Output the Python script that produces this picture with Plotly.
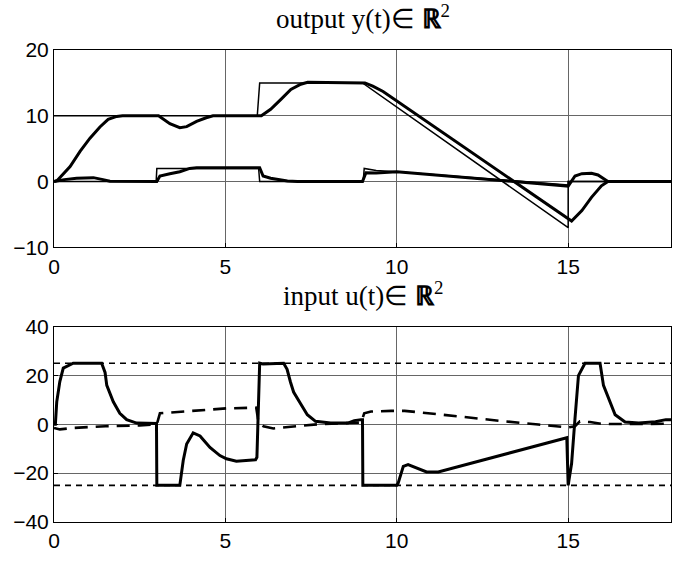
import plotly.graph_objects as go
from plotly.subplots import make_subplots

# ---- reference trajectories (thin lines) ----
t_r1 = [0, 5.93, 6.0, 9.0, 15.0, 15.0, 18]
r1 = [10, 10, 15, 15, -7, 0, 0]

t_r2 = [0, 2.98, 3.0, 5.97, 6.0, 9.02, 9.05, 9.4, 10.0, 15.0, 15.0, 18]
r2 = [0, 0, 2, 2, 0, 0, 2, 1.7, 1.5, -0.5, 0, 0]

# ---- measured outputs (thick lines) ----
t_y1 = [0, 0.1, 0.47, 0.76, 1.05, 1.34, 1.58, 1.83, 2.0, 3.05, 3.38, 3.67, 3.87,
        4.16, 4.44, 4.64, 6.05, 6.32, 6.62, 6.91, 7.2, 7.4, 9.07, 9.3, 9.6,
        15.0, 15.1, 15.4, 15.68, 15.97, 16.16, 18]
y1 = [0, 0.2, 2.3, 4.6, 6.6, 8.3, 9.45, 9.9, 10, 10, 8.8, 8.2, 8.35,
      9.15, 9.7, 10, 10, 11.0, 12.5, 14.0, 14.8, 15.1, 15.0, 14.5, 13.7,
      -5.6, -6.0, -4.4, -2.4, -0.65, 0, 0]

t_y2 = [0, 0.3, 0.66, 1.15, 1.43, 1.63, 3.0, 3.09, 3.38, 3.67, 3.96, 4.16,
        6.0, 6.1, 6.32, 6.81, 7.1, 9.0, 9.1, 9.4, 10.0, 15.0, 15.2, 15.4,
        15.68, 15.87, 16.06, 16.16, 18]
y2 = [0, 0.3, 0.5, 0.6, 0.3, 0.05, 0, 0.85, 1.2, 1.5, 2.0, 2.1,
      2.1, 0.85, 0.5, 0.1, 0, 0, 1.35, 1.3, 1.5, -0.7, 0.85, 1.2,
      1.25, 1.0, 0.35, 0, 0]

# ---- control inputs ----
t_u1 = [0, 0.04, 0.08, 0.17, 0.27, 0.47, 0.56, 1.39, 1.49, 1.54, 1.73, 1.92,
        2.12, 2.41, 2.9, 2.99, 3.0, 3.67, 3.77, 3.87, 4.06, 4.26, 4.55, 4.84,
        5.03, 5.32, 5.88, 5.92, 6.0, 6.1, 6.7, 6.8, 6.9, 6.99, 7.19, 7.39,
        7.63, 8.07, 8.57, 8.76, 8.96, 9.0, 9.01, 10.0, 10.04, 10.19, 10.33,
        10.53, 10.87, 11.21, 14.96, 15.0, 15.1, 15.2, 15.3, 15.49, 15.93,
        16.03, 16.18, 16.37, 16.66, 17.06, 17.55, 17.85, 18]
u1 = [0, 0, 9.2, 17.5, 23.0, 24.5, 25, 25, 21.2, 15.9, 9.2, 4.5,
      1.9, 0.5, 0.1, 0.3, -25, -25, -14.8, -8.1, -3.5, -4.8, -9.5, -12.8,
      -14.1, -15.1, -14.5, -13.5, 25, 24.7, 25, 22.5, 17.2, 13.2, 8.5, 3.9,
      1.2, 0.5, 0.5, 1.5, 1.9, 1.9, -25, -25, -24.1, -17.2, -16.5,
      -17.5, -19.5, -19.5, -5.5, -25, -16.1, 2.5, 19.9, 25, 25,
      15.9, 10.5, 3.9, 0.9, 0.5, 1.0, 1.9, 1.9]

t_u2 = [0, 0.17, 0.56, 1.0, 1.5, 2.5, 2.99, 3.0, 3.09, 4.06, 4.74, 5.03, 5.9,
        5.96, 6.11, 6.4, 7.09, 7.78, 8.57, 8.96, 9.05, 9.25, 9.84, 10.23,
        11.21, 12.18, 13.15, 14.13, 14.91, 15.0, 15.2, 15.34, 15.64, 16.02, 18]
u2 = [-1.5, -2.1, -1.5, -1.2, -0.8, -0.5, -0.3, 0.0, 4.5, 5.5, 6.3, 6.5, 6.8,
      1.2, -0.8, -1.7, -0.8, 0.1, 0.5, 0.7, 4.5, 5.2, 5.5, 5.5,
      4.1, 2.5, 1.2, -0.1, -1.2, -1.3, -0.8, 1.2, 0.9, 0.1, 0.2]

# input limits
t_lim = [0, 18]
u_max = [25, 25]
u_min = [-25, -25]

x_ticks = [0, 5, 10, 15]
y_ticks_top = [-10, 0, 10, 20]
y_ticks_bot = [-40, -20, 0, 20, 40]

fig = make_subplots(rows=2, cols=1, vertical_spacing=0.0)

thin = dict(color="black", width=1.5)
thick = dict(color="black", width=3)

fig.add_trace(go.Scatter(x=t_r1, y=r1, mode="lines", line=thin), row=1, col=1)
fig.add_trace(go.Scatter(x=t_r2, y=r2, mode="lines", line=thin), row=1, col=1)
fig.add_trace(go.Scatter(x=t_y1, y=y1, mode="lines", line=thick), row=1, col=1)
fig.add_trace(go.Scatter(x=t_y2, y=y2, mode="lines", line=thick), row=1, col=1)

lim = dict(color="black", width=1.6, dash="6px,5px")
fig.add_trace(go.Scatter(x=t_lim, y=u_max, mode="lines", line=lim), row=2, col=1)
fig.add_trace(go.Scatter(x=t_lim, y=u_min, mode="lines", line=lim), row=2, col=1)
fig.add_trace(go.Scatter(x=t_u1, y=u1, mode="lines", line=thick), row=2, col=1)
fig.add_trace(go.Scatter(x=t_u2, y=u2, mode="lines",
                         line=dict(color="black", width=2.6, dash="13px,8px")),
              row=2, col=1)

tick_font = dict(family="Liberation Sans, Arial, sans-serif", size=21, color="black")
axis_common = dict(showline=True, linecolor="black", linewidth=1, mirror=True,
                   ticks="inside", ticklen=4, tickcolor="black",
                   showgrid=True, gridcolor="#666", gridwidth=1,
                   zeroline=False, tickfont=tick_font)

fig.update_xaxes(range=[0, 18], tickvals=x_ticks, **axis_common)
fig.update_yaxes(range=[-10, 20], tickvals=y_ticks_top, row=1, col=1, **axis_common)
fig.update_yaxes(range=[-40, 40], tickvals=y_ticks_bot, row=2, col=1, **axis_common)

# panel placement
fig.update_layout(
    yaxis=dict(domain=[0.5818, 1.0]),
    yaxis2=dict(domain=[0.0, 0.4141]),
)

title_font = dict(family="Liberation Serif, Times New Roman, serif", size=27, color="black")
fig.add_annotation(text="output y(t)∈ <b>ℝ</b><sup>2</sup>", xref="paper", yref="paper",
                   x=0.5, y=1.07, xanchor="center", yanchor="middle",
                   showarrow=False, font=title_font)
fig.add_annotation(text="input u(t)∈ <b>ℝ</b><sup>2</sup>", xref="paper", yref="paper",
                   x=0.5, y=0.484, xanchor="center", yanchor="middle",
                   showarrow=False, font=title_font)

fig.update_layout(
    width=691, height=564,
    margin=dict(l=54, r=20, t=50, b=31),
    showlegend=False,
    plot_bgcolor="white", paper_bgcolor="white",
)

fig.write_html("out.html")
